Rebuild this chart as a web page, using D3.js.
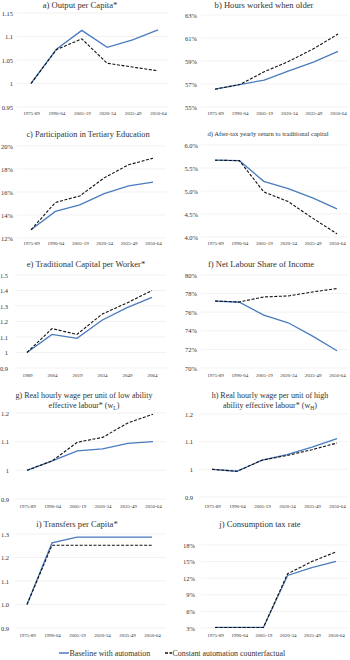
<!DOCTYPE html>
<html><head><meta charset="utf-8">
<script src="https://cdn.jsdelivr.net/npm/d3@7"></script>
<style>
html,body{margin:0;padding:0;background:#fff;}
svg{display:block;}
svg text{font-family:"Liberation Serif","DejaVu Serif",serif !important;fill:#333;}
</style></head>
<body>
<svg id="chart" width="350" height="660"></svg>
<script>
// ---------- DATA ----------
const periods = ["1975-89","1990-04","2005-19","2020-34","2035-49","2050-64"];
const years = ["1989","2004","2019","2034","2049","2064"];

const outputBase = [1, 1.073, 1.113, 1.077, 1.093, 1.114];
const outputCf   = [1, 1.072, 1.095, 1.043, 1.035, 1.027];
const outputTicks = [0.95, 1, 1.05, 1.1, 1.15];
const outputTickLabels = ["0.95","1","1.05","1.1","1.15"];

const hoursBase = [56.55, 56.95, 57.34, 58.14, 58.90, 59.83];
const hoursCf   = [56.55, 56.95, 58.06, 58.97, 60.06, 61.34];
const hoursTicks = [55, 57, 59, 61, 63];
const hoursTickLabels = ["55%","57%","59%","61%","63%"];

const tertiaryBase = [12.71, 14.31, 14.89, 15.86, 16.54, 16.86];
const tertiaryCf   = [12.71, 15.09, 15.66, 17.23, 18.37, 18.94];
const tertiaryTicks = [12, 14, 16, 18, 20];
const tertiaryTickLabels = ["12%","14%","16%","18%","20%"];

const returnBase = [5.67, 5.66, 5.21, 5.05, 4.85, 4.61];
const returnCf   = [5.67, 5.66, 4.98, 4.77, 4.41, 4.07];
const returnTicks = [4.0, 4.5, 5.0, 5.5, 6.0];
const returnTickLabels = ["4.0%","4.5%","5.0%","5.5%","6.0%"];

const capitalBase = [1, 1.117, 1.091, 1.208, 1.290, 1.356];
const capitalCf   = [1, 1.154, 1.117, 1.247, 1.320, 1.400];
const capitalTicks = [0.9, 1, 1.1, 1.2, 1.3, 1.4, 1.5];
const capitalTickLabels = ["0.9","1","1.1","1.2","1.3","1.4","1.5"];

const labourBase = [77.20, 77.07, 75.68, 74.86, 73.43, 71.86];
const labourCf   = [77.20, 77.10, 77.64, 77.75, 78.18, 78.54];
const labourTicks = [70, 72, 74, 76, 78, 80];
const labourTickLabels = ["70%","72%","74%","76%","78%","80%"];

const wageLowBase = [1, 1.033, 1.068, 1.075, 1.094, 1.100];
const wageLowCf   = [1, 1.033, 1.098, 1.115, 1.165, 1.196];
const wageLowTicks = [0.9, 1, 1.1, 1.2];
const wageLowTickLabels = ["0.9","1","1.1","1.2"];

const wageHighBase = [1, 0.993, 1.033, 1.053, 1.080, 1.111];
const wageHighCf   = [1, 0.993, 1.033, 1.050, 1.071, 1.095];
const wageHighTicks = [0.9, 1, 1.1, 1.2];
const wageHighTickLabels = ["0.9","1","1.1","1.2"];

const transfersBase = [1, 1.262, 1.287, 1.287, 1.287, 1.287];
const transfersCf   = [1, 1.252, 1.252, 1.252, 1.252, 1.252];
const transfersTicks = [0.9, 1.0, 1.1, 1.2, 1.3];
const transfersTickLabels = ["0.9","1.0","1.1","1.2","1.3"];

const taxBase = [3.1, 3.1, 3.1, 12.5, 13.9, 15.05];
const taxCf   = [3.1, 3.1, 3.1, 12.8, 15.0, 16.75];
const taxTicks = [3, 6, 9, 12, 15, 18];
const taxTickLabels = ["3%","6%","9%","12%","15%","18%"];

const seriesNames = ["Baseline with automation", "Constant automation counterfactual"];

// ---------- LAYOUT ----------
const FONT = '"Liberation Serif","DejaVu Serif",serif';
const BLUE = "#4a7bbf";
const panels = [
  {title:["a) Output per Capita*"], cats:periods, base:outputBase, cf:outputCf, ticks:outputTicks, labels:outputTickLabels,
   x:[31,158], y:[107,13], labX:13, grid:[17,168], titleX:80, titleY:[8], xLabY:115, tfs:8.6},
  {title:["b) Hours worked when older"], cats:periods, base:hoursBase, cf:hoursCf, ticks:hoursTicks, labels:hoursTickLabels,
   x:[215,338], y:[107,15], labX:197, grid:[201,348], titleX:264, titleY:[8], xLabY:115, tfs:8.6},
  {title:["c) Participation in Tertiary Education"], cats:periods, base:tertiaryBase, cf:tertiaryCf, ticks:tertiaryTicks, labels:tertiaryTickLabels,
   x:[31,153], y:[238,146], labX:13, grid:[17,166], titleX:88, titleY:[137], xLabY:245, tfs:8.3},
  {title:["d) After-tax yearly return to traditional capital"], cats:periods, base:returnBase, cf:returnCf, ticks:returnTicks, labels:returnTickLabels,
   x:[215,337], y:[237,145], labX:198, grid:[201,348], titleX:268, titleY:[136], xLabY:245, tfs:6.6},
  {title:["e) Traditional Capital per Worker*"], cats:years, base:capitalBase, cf:capitalCf, ticks:capitalTicks, labels:capitalTickLabels,
   x:[27,152], y:[368,275], labX:8, grid:[15,166], titleX:86, titleY:[267], xLabY:377, tfs:8.6},
  {title:["f) Net Labour Share of Income"], cats:periods, base:labourBase, cf:labourCf, ticks:labourTicks, labels:labourTickLabels,
   x:[215,337], y:[368,275], labX:197, grid:[201,348], titleX:261, titleY:[267], xLabY:377, tfs:8.6},
  {title:["g) Real hourly wage per unit of low ability", "effective labour* (w", "L", ")"], cats:periods, base:wageLowBase, cf:wageLowCf, ticks:wageLowTicks, labels:wageLowTickLabels,
   x:[27,153], y:[499,413], labX:9, grid:[15,166], titleX:84, titleY:[398,408], xLabY:508, tfs:8},
  {title:["h) Real hourly wage per unit of high", "ability effective labour* (w", "H", ")"], cats:periods, base:wageHighBase, cf:wageHighCf, ticks:wageHighTicks, labels:wageHighTickLabels,
   x:[212,337], y:[497,414], labX:193, grid:[199,348], titleX:270, titleY:[398,408], xLabY:508, tfs:8},
  {title:["i) Transfers per Capita*"], cats:periods, base:transfersBase, cf:transfersCf, ticks:transfersTicks, labels:transfersTickLabels,
   x:[27,152], y:[628,534], labX:9, grid:[15,166], titleX:77, titleY:[527], xLabY:637, tfs:8.6},
  {title:["j) Consumption tax rate"], cats:periods, base:taxBase, cf:taxCf, ticks:taxTicks, labels:taxTickLabels,
   x:[215,336], y:[628,545], labX:195, grid:[201,348], titleX:260, titleY:[527], xLabY:637, tfs:8.6}
];

const svg = d3.select("#chart");

panels.forEach(p => {
  const g = svg.append("g");
  const x = d3.scalePoint().domain(p.cats).range(p.x);
  const y = d3.scaleLinear().domain([p.ticks[0], p.ticks[p.ticks.length-1]]).range(p.y);

  // gridlines
  g.selectAll("line.grid").data(p.ticks).join("line")
    .attr("x1", p.grid[0]).attr("x2", p.grid[1])
    .attr("y1", d => y(d)).attr("y2", d => y(d))
    .attr("stroke", "#ececec").attr("stroke-width", 0.7);

  // y axis labels via d3 axis
  const yAxis = d3.axisLeft(y).tickValues(p.ticks).tickSize(0).tickPadding(0)
    .tickFormat((d,i) => p.labels[i]);
  const ya = g.append("g").attr("transform", `translate(${p.labX},0)`).call(yAxis)
    .attr("font-family", FONT);
  ya.select(".domain").remove();
  ya.selectAll("text").attr("font-size", 6.5).attr("fill", "#444").attr("font-family", FONT);

  // x axis labels
  const xAxis = d3.axisBottom(x).tickSize(0).tickPadding(0);
  const xa = g.append("g").attr("transform", `translate(0,${p.xLabY - 4})`).call(xAxis)
    .attr("font-family", FONT);
  xa.select(".domain").remove();
  xa.selectAll("text").attr("font-size", 5).attr("fill", "#444").attr("font-family", FONT);

  // lines
  const line = d3.line().x((d,i) => x(p.cats[i])).y(d => y(d));
  g.append("path").datum(p.base).attr("d", line)
    .attr("fill", "none").attr("stroke", BLUE).attr("stroke-width", 1.3);
  g.append("path").datum(p.cf).attr("d", line)
    .attr("fill", "none").attr("stroke", "#111").attr("stroke-width", 1.1)
    .attr("stroke-dasharray", "3,1.6");

  // title
  const t1 = g.append("text").attr("x", p.titleX).attr("y", p.titleY[0]).attr("text-anchor", "middle")
    .attr("font-family", FONT).attr("font-size", p.tfs).attr("fill", "#222").text(p.title[0]);
  if (p.titleY.length > 1) {
    const t2 = g.append("text").attr("x", p.titleX).attr("y", p.titleY[1]).attr("text-anchor", "middle")
      .attr("font-family", FONT).attr("font-size", p.tfs).attr("fill", "#222");
    t2.append("tspan").text(p.title[1]);
    t2.append("tspan").attr("font-size", p.tfs*0.7).attr("dy", 1.5).text(p.title[2]);
    t2.append("tspan").attr("dy", -1.5).text(p.title[3]);
  }
});

// legend
const leg = svg.append("g").attr("transform", "translate(0,653)");
leg.append("line").attr("x1", 59).attr("x2", 69).attr("y1", 0).attr("y2", 0)
  .attr("stroke", BLUE).attr("stroke-width", 1.5);
leg.append("text").attr("x", 69.5).attr("y", 2.6).attr("font-family", FONT).attr("font-size", 7.9)
  .attr("fill", "#222").text(seriesNames[0]);
leg.append("line").attr("x1", 165).attr("x2", 172).attr("y1", 0).attr("y2", 0)
  .attr("stroke", "#111").attr("stroke-width", 1.5).attr("stroke-dasharray", "3,1.5");
leg.append("text").attr("x", 172.5).attr("y", 2.6).attr("font-family", FONT).attr("font-size", 7.9)
  .attr("fill", "#222").text(seriesNames[1]);
</script>
</body></html>
